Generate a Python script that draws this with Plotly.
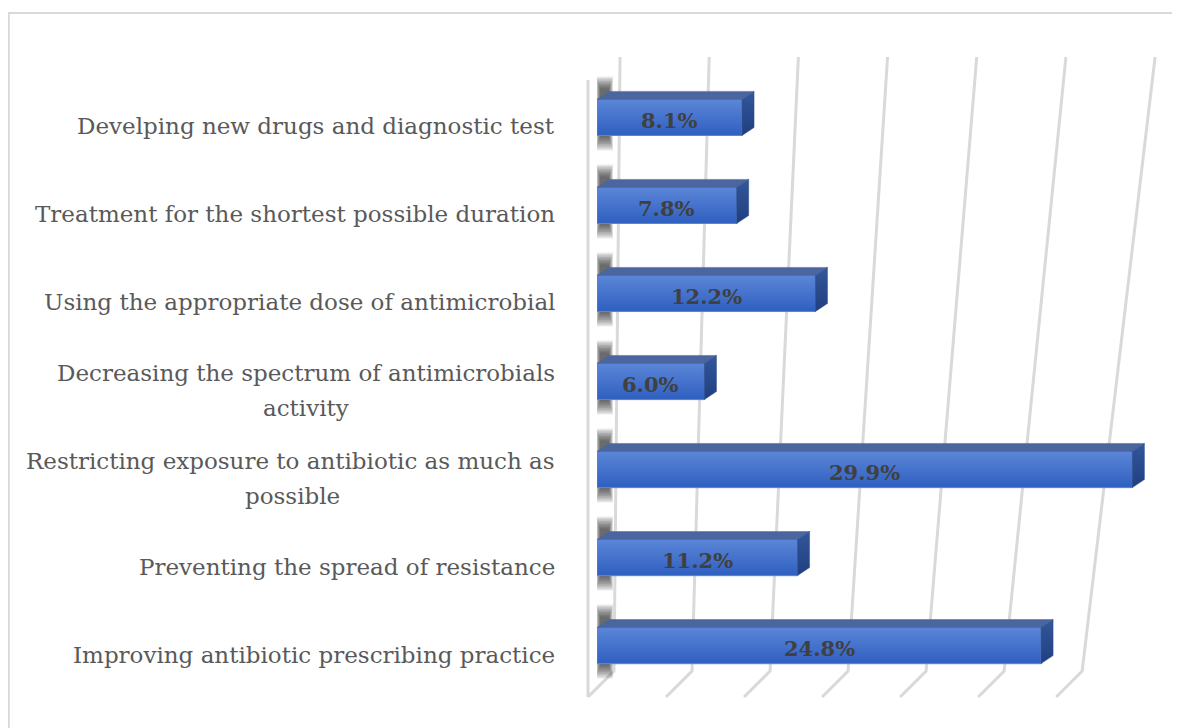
import plotly.graph_objects as go

# ---- data ----
categories = [
    "Improving antibiotic prescribing practice",
    "Preventing the spread of resistance",
    "Restricting exposure to antibiotic as much as<br>possible",
    "Decreasing the spectrum of antimicrobials<br>activity",
    "Using the appropriate dose of antimicrobial",
    "Treatment for the shortest possible duration",
    "Develping new drugs and diagnostic test",
]
values = [24.8, 11.2, 29.9, 6.0, 12.2, 7.8, 8.1]
tick_values = [0, 5, 10, 15, 20, 25, 30]

# ---- layout geometry (reference pixel coords, page offset compensated) ----
OFF = 8
W, H = 1180, 728
L = 597 - OFF
PXU = 17.9
XMAX = 32
R = W - L - XMAX * PXU
T, B = 47 - OFF, 12 + OFF
YMIN, YMAX = -0.8, 6.8
PW = W - L - R
PH = H - T - B
PYU = PH / (YMAX - YMIN)


def px_x(px):
    return (px - OFF - L) / PW


def px_y(py):
    return (H - B - (py - OFF)) / PH


BAR_W = 0.41
DDX = 12 / PXU
DDY = 8 / PYU
ys = list(range(len(values)))

grid_col = "#d9d9d9"
shapes = []
# frame
shapes.append(dict(type="rect", xref="paper", yref="paper",
                   x0=px_x(9), x1=px_x(1200), y0=px_y(13), y1=px_y(760),
                   line=dict(color=grid_col, width=2), layer="below"))
# left wall line
shapes.append(dict(type="line", xref="paper", yref="paper",
                   x0=px_x(588), x1=px_x(588), y0=px_y(80), y1=px_y(697),
                   line=dict(color=grid_col, width=3), layer="below"))
# perspective gridlines
for v in tick_values:
    xt = 620 + v * 17.83
    xb = 614 + v * 15.6
    xf = 588 + v * 15.6
    shapes.append(dict(type="path", xref="paper", yref="paper",
                       path=f"M {px_x(xt)},{px_y(57)} L {px_x(xb)},{px_y(671)} L {px_x(xf)},{px_y(697)}",
                       line=dict(color=grid_col, width=3), layer="below"))
# soft (layered) shadows on the left wall behind each bar
N_LAYERS = 9
for y in ys:
    yt = y + BAR_W / 2 + DDY
    yb = y - BAR_W / 2
    for k in range(N_LAYERS):
        f = k / (N_LAYERS - 1)
        x0 = -1 + 4 * f
        x1 = 16 - 4 * f
        up = 15 - 12 * f
        down = 15 - 13 * f
        shapes.append(dict(type="rect", xref="x", yref="y",
                           x0=x0 / PXU, x1=x1 / PXU, y0=yb - down / PYU, y1=yt + up / PYU,
                           fillcolor="rgba(0,0,0,0.09)", line=dict(width=0), layer="below"))

fig = go.Figure()
fig.add_trace(go.Bar(
    x=values, y=ys, orientation="h", width=BAR_W,
    marker=dict(color="#4472ca", line=dict(color="#5f86d0", width=1)),
    hoverinfo="skip", showlegend=False,
))

# front-face shading, 3D top and side faces
for v, y in zip(values, ys):
    yt = y + BAR_W / 2
    yb = y - BAR_W / 2
    fig.add_trace(go.Scatter(
        x=[0, v, v, 0, 0], y=[yt, yt, yb, yb, yt],
        fill="toself", mode="lines", line=dict(color="#5f86d0", width=1),
        fillgradient=dict(type="vertical",
                          colorscale=[[0, "#2f5fc0"], [1, "#5b86d8"]]),
        hoverinfo="skip", showlegend=False))
    fig.add_trace(go.Scatter(
        x=[0, v, v + DDX, DDX, 0], y=[yt, yt, yt + DDY, yt + DDY, yt],
        fill="toself", fillcolor="#4b669e", mode="lines",
        line=dict(color="#4b669e", width=0.5), hoverinfo="skip", showlegend=False))
    fig.add_trace(go.Scatter(
        x=[v, v + DDX, v + DDX, v, v], y=[yt, yt + DDY, yb + DDY, yb, yt],
        fill="toself", mode="lines",
        fillgradient=dict(type="vertical",
                          colorscale=[[0, "#1f3f80"], [1, "#34579a"]]),
        line=dict(color="#2b4d8f", width=0.5), hoverinfo="skip", showlegend=False))

annotations = []
for v, y in zip(values, ys):
    annotations.append(dict(
        x=v / 2, y=y - 0.03, xref="x", yref="y", text=f"<b>{v:.1f}%</b>",
        showarrow=False, font=dict(family="DejaVu Serif", size=21, color="#404040")))

LINE_GAP = 35
cont_centres = {"possible": 293, "activity": 306}
for c, y in zip(categories, ys):
    lines = c.split("<br>")
    n = len(lines)
    for k, line in enumerate(lines):
        off_px = 9 + (k - (n - 1) / 2) * LINE_GAP
        if k == 0:
            xpos, anchor = px_x(557), "right"
        else:
            xpos, anchor = px_x(cont_centres.get(line, 300)), "center"
        annotations.append(dict(
            x=xpos, y=y - off_px / PYU, xref="paper", yref="y", text=line,
            xanchor=anchor, yanchor="middle", showarrow=False,
            font=dict(family="DejaVu Serif", size=23, color="#595959")))

fig.update_layout(
    width=W, height=H,
    margin=dict(l=L, r=R, t=T, b=B),
    paper_bgcolor="white", plot_bgcolor="white",
    xaxis=dict(range=[0, XMAX], showgrid=False, zeroline=False, showticklabels=False, showline=False),
    yaxis=dict(range=[YMIN, YMAX], showgrid=False, zeroline=False, showticklabels=False, showline=False),
    shapes=shapes, annotations=annotations, bargap=0.5,
)

fig.write_html("out.html")
